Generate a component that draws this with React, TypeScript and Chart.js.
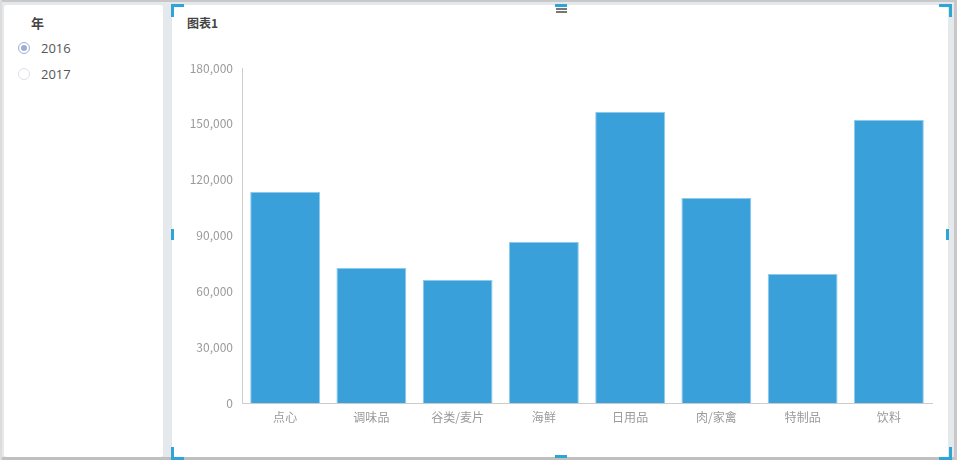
import React, { useEffect, useRef } from "react";
import { Chart, registerables } from "chart.js";

Chart.register(...registerables);

const categories = ["点心", "调味品", "谷类/麦片", "海鲜", "日用品", "肉/家禽", "特制品", "饮料"];
const sales2016 = [113400, 72500, 66100, 86500, 156400, 110100, 69300, 152100];
const yearOptions = ["2016", "2017"];
const chartTitle = "图表1";
const filterTitle = "年";

const FONT = '"Noto Sans CJK SC", "Noto Sans", sans-serif';
const ACCENT = "#2fa4d6";

function Corner({ style }: { style: React.CSSProperties }) {
  return <div style={{ position: "absolute", width: 10, height: 10, ...style }} />;
}

export default function App() {
  const canvasRef = useRef<HTMLCanvasElement | null>(null);

  useEffect(() => {
    if (!canvasRef.current) return;
    const chart = new Chart(canvasRef.current, {
      type: "bar",
      data: {
        labels: categories,
        datasets: [
          {
            label: "2016",
            data: sales2016,
            backgroundColor: "#3aa0da",
            borderColor: "#8ccbee",
            borderWidth: { top: 1, left: 1, right: 1, bottom: 0 },
            barPercentage: 0.81,
            categoryPercentage: 1,
          },
        ],
      },
      options: {
        animation: false,
        responsive: false,
        maintainAspectRatio: false,
        layout: { padding: { top: 63, right: 16, left: 0, bottom: 0 } },
        plugins: { legend: { display: false }, tooltip: { enabled: false } },
        scales: {
          x: {
            grid: { display: false, drawTicks: false },
            border: { display: true, color: "#cccccc", width: 1 },
            ticks: { color: "#9a9a9a", font: { family: FONT, size: 12 }, padding: 7 },
            afterFit: (s: any) => {
              s.height = 54;
            },
          },
          y: {
            min: 0,
            max: 180000,
            grid: { display: false, drawTicks: false },
            border: { display: true, color: "#cccccc", width: 1 },
            ticks: {
              stepSize: 30000,
              color: "#9a9a9a",
              font: { family: FONT, size: 12 },
              padding: 9,
              callback: (v: any) => Number(v).toLocaleString("en-US"),
            },
            afterFit: (s: any) => {
              s.width = 70;
            },
          },
        },
      },
    });
    return () => chart.destroy();
  }, []);

  return (
    <div
      style={{
        position: "fixed",
        left: 0,
        top: 0,
        width: 957,
        height: 460,
        background: "#e6e9ec",
        overflow: "hidden",
        fontFamily: FONT,
      }}
    >
      {/* outer frame lines */}
      <div style={{ position: "absolute", left: 0, top: 0, width: 957, height: 2, background: "#c8c8c8" }} />
      <div style={{ position: "absolute", left: 0, top: 457, width: 957, height: 3, background: "#c0c0c0" }} />
      <div style={{ position: "absolute", left: 954, top: 0, width: 3, height: 460, background: "#c8c8c8" }} />
      <div style={{ position: "absolute", left: 0, top: 0, width: 2, height: 460, background: "#dcdcdc" }} />

      {/* filter panel */}
      <div
        style={{
          position: "absolute",
          left: 4,
          top: 5,
          width: 159,
          height: 452,
          background: "#ffffff",
          borderRadius: 3,
        }}
      >
        <div
          style={{
            position: "absolute",
            left: 27,
            top: 10,
            fontSize: 13,
            fontWeight: 700,
            color: "#444",
            lineHeight: "16px",
          }}
        >
          {filterTitle}
        </div>
        {yearOptions.map((y, i) => (
          <div key={y} style={{ position: "absolute", left: 14, top: 35 + i * 26, height: 16, display: "flex", alignItems: "center" }}>
            <div
              style={{
                width: 12,
                height: 12,
                borderRadius: "50%",
                border: i === 0 ? "1px solid #9eadd8" : "1px solid #dde0e6",
                boxSizing: "border-box",
                display: "flex",
                alignItems: "center",
                justifyContent: "center",
              }}
            >
              {i === 0 && <div style={{ width: 6, height: 6, borderRadius: "50%", background: "#9eadd8" }} />}
            </div>
            <span style={{ marginLeft: 11, fontSize: 13, color: "#555", fontFamily: '"Open Sans", sans-serif' }}>{y}</span>
          </div>
        ))}
      </div>

      {/* chart panel */}
      <div style={{ position: "absolute", left: 172, top: 5, width: 776, height: 452, background: "#ffffff" }}>
        <div
          style={{
            position: "absolute",
            left: 15,
            top: 10,
            fontSize: 12,
            fontWeight: 700,
            color: "#444",
            lineHeight: "15px",
          }}
        >
          {chartTitle}
        </div>
        <canvas ref={canvasRef} width={776} height={452} style={{ position: "absolute", left: 0, top: 0 }} />
        {/* menu icon */}
        <div style={{ position: "absolute", left: 384, top: 3, width: 11, height: 2, background: "#777" }} />
        <div style={{ position: "absolute", left: 384, top: 6, width: 11, height: 2, background: "#777" }} />
      </div>

      {/* selection handles */}
      <Corner style={{ left: 171, top: 4, borderLeft: `3px solid ${ACCENT}`, borderTop: `3px solid ${ACCENT}` }} />
      <Corner style={{ left: 939, top: 4, borderRight: `3px solid ${ACCENT}`, borderTop: `3px solid ${ACCENT}` }} />
      <Corner style={{ left: 171, top: 447, borderLeft: `3px solid ${ACCENT}`, borderBottom: `3px solid ${ACCENT}` }} />
      <Corner style={{ left: 939, top: 447, borderRight: `3px solid ${ACCENT}`, borderBottom: `3px solid ${ACCENT}` }} />
      <div style={{ position: "absolute", left: 555, top: 4, width: 12, height: 3, background: ACCENT }} />
      <div style={{ position: "absolute", left: 555, top: 455, width: 12, height: 3, background: ACCENT }} />
      <div style={{ position: "absolute", left: 171, top: 229, width: 3, height: 11, background: ACCENT }} />
      <div style={{ position: "absolute", left: 946, top: 229, width: 3, height: 11, background: ACCENT }} />
    </div>
  );
}
